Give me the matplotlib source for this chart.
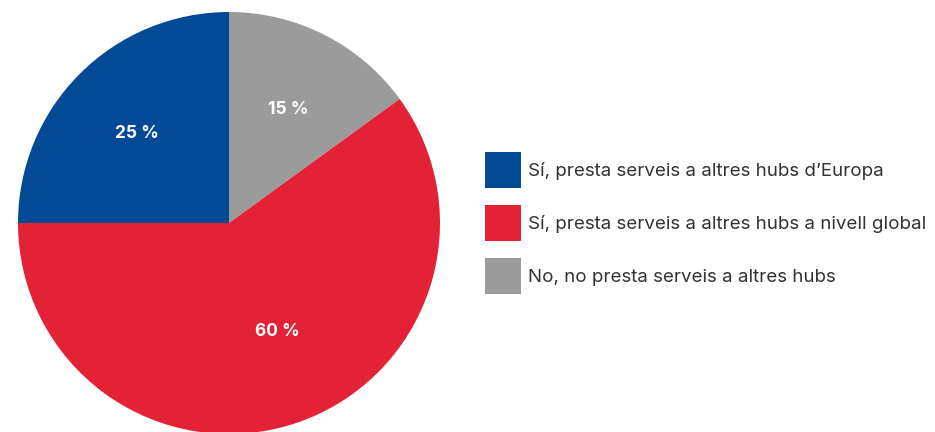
import matplotlib.pyplot as plt

plt.rcParams['font.family'] = ['Inter', 'DejaVu Sans']

# clockwise from 12 o'clock
labels = ['No, no presta serveis a altres hubs',
          'Sí, presta serveis a altres hubs a nivell global',
          'Sí, presta serveis a altres hubs d\u2019Europa']
values = [15, 60, 25]
colors = ['#9b9b9b', '#e32236', '#034a96']
legend_order = [2, 1, 0]

fig = plt.figure(figsize=(9.35, 4.32), dpi=100)
ax = fig.add_axes([18 / 935, -2 / 432, 422 / 935, 422 / 432])

wedges, texts, autotexts = ax.pie(
    values, colors=colors, startangle=90, counterclock=False,
    autopct=lambda p: f'{p:.0f} %', pctdistance=0.62, radius=1,
    textprops=dict(color='white', fontsize=12.5, fontweight='bold'))
# the big slice's label sits a bit off its mid-angle in the original
autotexts[1].set_position((0.227, -0.50))
for t in autotexts:
    x, y = t.get_position()
    t.set_position((x, y - 0.015))
ax.set_xlim(-1, 1)
ax.set_ylim(-1, 1)
ax.set_aspect('equal')
ax.axis('off')

fig.legend([wedges[i] for i in legend_order], [labels[i] for i in legend_order],
           loc='center left', bbox_to_anchor=(485 / 935, 1 - 223 / 432),
           frameon=False, fontsize=13.5, handlelength=1.92, handleheight=2.58,
           handletextpad=0.4, labelspacing=0.9, borderpad=0, borderaxespad=0,
           labelcolor='#333333')

fig.savefig('out.png', dpi=100)
